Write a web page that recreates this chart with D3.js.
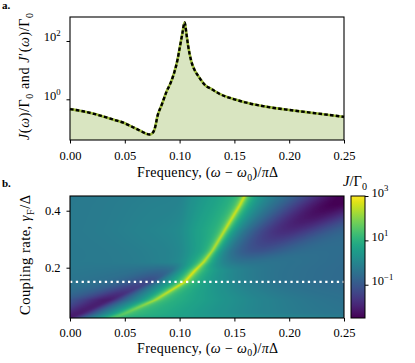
<!DOCTYPE html>
<html><head><meta charset="utf-8">
<script src="https://cdn.jsdelivr.net/npm/d3@7"></script>
<style>
body{margin:0;background:#fff}
svg{display:block}
</style></head>
<body><svg id="chart" width="415" height="363"></svg>
<script>
// ---------------- data ----------------
// panel a: spectrum J(w)/Gamma0 at gamma_F/Delta = 0.15
const spectrumFreq = [0.000,0.010,0.020,0.0286,0.040,0.050,0.058,0.065,0.070,0.0727,0.075,0.077,0.080,0.084,0.088,0.092,0.095,0.098,0.1005,0.1025,0.1046,0.1062,0.1077,0.1107,0.1140,0.117,0.1244,0.1277,0.137,0.150,0.164,0.180,0.200,0.222,0.250];
const spectrumJ    = [0.46,0.40,0.33,0.27,0.20,0.15,0.108,0.080,0.065,0.062,0.068,0.09,0.28,0.70,1.8,3.8,8,22,70,180,436,180,72,20,9.5,6.3,2.8,2.4,1.5,1.0,0.72,0.55,0.43,0.34,0.25];
const freqTicks = [0, 0.05, 0.10, 0.15, 0.20, 0.25];
const freqTickLabels = ["0.00","0.05","0.10","0.15","0.20","0.25"];
const logTicksA = [1, 100];
const logTickExpA = ["0","2"];
const gammaTicks = [0.2, 0.4];
const gammaTickLabels = ["0.2","0.4"];
const cbarTicks = [0.1, 10, 1000];
const cbarTickExp = ["\u22121","1","3"];
const cutGamma = 0.15;

// panel b: map of log10(J/Gamma0) over (frequency, gamma_F)
const bgFreq  = [0, 0.05, 0.10, 0.15, 0.20, 0.25];
const bgGamma = [0.02, 0.10, 0.15, 0.20, 0.30, 0.45];
const bgLog = [
  [-0.30,-0.30,-0.35,-0.40,-0.42,-0.42],
  [-0.30,-0.30,-0.40,-0.45,-0.50,-0.55],
  [-0.30,-0.35,-0.45,-0.55,-0.62,-0.69],
  [-0.30,-0.35,-0.45,-0.60,-0.65,-0.70],
  [-0.30,-0.30,-0.35,-0.50,-0.60,-0.65],
  [-0.30,-0.30,-0.30,-0.45,-0.55,-0.60]];
// bright resonance ridge
const ridgeGamma   = [0.02, 0.04, 0.087, 0.15, 0.19, 0.22, 0.26, 0.33, 0.42, 0.46];
const ridgeFreq    = [0.036,0.050,0.078,0.1046,0.114,0.122,0.130,0.141,0.155,0.1605];
const ridgePeakLog = [1.5, 1.8, 2.45, 2.75, 2.8, 2.8, 2.75, 2.7, 2.6, 2.55];
const ridgeWidth   = [0.006,0.004,0.002,0.0012,0.0012,0.0012,0.0012,0.0012,0.0012,0.0012];
const glowRightAmp = [7.7, 20, 16, 7, 3, 1, 0.5, 0.3, 0.2, 0.2];
const glowRightLen = [0.06,0.034,0.028,0.016,0.012,0.01,0.01,0.01,0.01,0.01];
const glowLeftAmp  = [0, 0, 0, 0, 1, 3, 6, 10, 9, 9];
const glowLeftLen  = [0.01,0.01,0.01,0.01,0.015,0.018,0.02,0.025,0.028,0.028];
// lower-left dark valley
const dip1Gamma = [0.02, 0.04, 0.087, 0.15, 0.19, 0.22];
const dip1Freq  = [-0.004, 0.009, 0.035, 0.0727, 0.09, 0.10];
const dip1Depth = [2.2, 2.1, 2.1, 1.3, 0.9, 0.3];
const dip1WidthLeft  = [0.025, 0.028, 0.03, 0.025, 0.025, 0.025];
const dip1WidthRight = [0.014, 0.015, 0.015, 0.008, 0.01, 0.01];
// upper-right dark valley
const dip2Gamma = [0.19, 0.22, 0.256, 0.326, 0.42, 0.47];
const dip2Freq  = [0.13, 0.145, 0.161, 0.192, 0.24, 0.262];
const dip2Depth = [0.0, 0.5, 1.0, 1.5, 2.0, 2.1];
const dip2Width = [0.03, 0.03, 0.035, 0.04, 0.045, 0.045];
const colorLogMin = -2.5, colorLogMax = 3;

// ---------------- layout ----------------
const FONT = "'Liberation Serif','Times New Roman','DejaVu Serif',serif";
const svg = d3.select("#chart").attr("font-family", FONT);
const FS = 12.5, LFS = 14;
const xA = d3.scaleLinear().domain([0, 0.25]).range([70, 344]);
const yA = d3.scaleLog().domain([Math.pow(10,-1.396), Math.pow(10,2.823)]).range([140, 17]);
const xB = d3.scaleLinear().domain([0, 0.25]).range([70, 344]);
const yB = d3.scaleLinear().domain([0.0235, 0.4516]).range([318, 196]);
const cS = d3.scaleLog().domain([Math.pow(10,colorLogMin), Math.pow(10,colorLogMax)]).range([318, 196]);
const viridis = d3.scaleSequential(d3.interpolateViridis).domain([colorLogMin, colorLogMax]).clamp(true);

function rich(sel, parts){
  let shift = 0;
  const base = parseFloat(sel.attr("font-size"));
  parts.forEach(([t,k])=>{
    const ts = sel.append("tspan").text(t);
    let target = 0;
    if (k==="sub") target = 0.28;
    if (k==="sup") target = -0.42;
    ts.attr("dy", ((target - shift) * base).toFixed(2));
    shift = target;
    if (k==="sub"||k==="sup") ts.attr("font-size", (base*0.7).toFixed(2));
    if (k==="i") ts.attr("font-style","italic");
  });
}
function fitLength(sel, target){
  const w = sel.node().getComputedTextLength();
  if (w < target) sel.attr("textLength", target).attr("lengthAdjust","spacing");
}
const freqLabel = [["Frequency, (","n"],["ω","i"],[" \u2212 ","n"],["ω","i"],["0","sub"],[")/","n"],["π","i"],["Δ","n"]];

// ---------------- panel a ----------------
const gA = svg.append("g");
const area = d3.area().x((d,i)=>xA(spectrumFreq[i])).y0(140).y1((d)=>yA(d)).curve(d3.curveMonotoneX);
const line = d3.line().x((d,i)=>xA(spectrumFreq[i])).y(d=>yA(d)).curve(d3.curveMonotoneX);
gA.append("path").attr("d", area(spectrumJ)).attr("fill","#d9e5c1");
gA.append("path").attr("d", line(spectrumJ)).attr("fill","none").attr("stroke","#9fbd3c").attr("stroke-width",2.6);
gA.append("path").attr("d", line(spectrumJ)).attr("fill","none").attr("stroke","#000").attr("stroke-width",2.4).attr("stroke-dasharray","3.6,2.2");
gA.append("rect").attr("x",70).attr("y",17).attr("width",274).attr("height",123).attr("fill","none").attr("stroke","#000").attr("stroke-width",1.1);

const axA = gA.append("g").attr("transform","translate(0,140)")
  .call(d3.axisBottom(xA).tickValues(freqTicks).tickFormat((d,i)=>freqTickLabels[i]).tickSize(3.5).tickSizeOuter(0));
axA.select(".domain").remove();
axA.selectAll("text").attr("font-size",FS).attr("dy",null).attr("y",19.5);
const ayA = gA.append("g").attr("transform","translate(70,0)")
  .call(d3.axisLeft(yA).tickValues(logTicksA).tickFormat("").tickSize(3.5).tickSizeOuter(0));
ayA.select(".domain").remove();
ayA.selectAll(".tick").each(function(d,i){
  const t = d3.select(this).append("text").attr("x",-9.5).attr("dy","0.34em").attr("text-anchor","end").attr("font-size",FS).attr("fill","#000");
  rich(t, [["10","n"],[logTickExpA[i],"sup"]]);
});

svg.append("text").attr("x",2).attr("y",9).attr("font-size",11).attr("font-weight","bold").text("a.");
const xlA = svg.append("text").attr("x",207.5).attr("y",177).attr("text-anchor","middle").attr("font-size",LFS);
rich(xlA, freqLabel);
const ylA = svg.append("text").attr("transform","translate(29,76.5) rotate(-90)").attr("text-anchor","middle").attr("font-size",14);
rich(ylA, [["J","i"],["(","n"],["ω","i"],[")/Γ","n"],["0","sub"],[" and ","n"],["J","i"],["′(","n"],["ω","i"],[")/Γ","n"],["0","sub"]]);

// ---------------- panel b ----------------
function interp(gs, arr){ return d3.scaleLinear().domain(gs).range(arr).clamp(true); }
const rX = interp(ridgeGamma, ridgeFreq), rP = interp(ridgeGamma, ridgePeakLog), rW = interp(ridgeGamma, ridgeWidth),
      gRA = interp(ridgeGamma, glowRightAmp), gRL = interp(ridgeGamma, glowRightLen),
      gLA = interp(ridgeGamma, glowLeftAmp), gLL = interp(ridgeGamma, glowLeftLen);
const d1X = interp(dip1Gamma, dip1Freq), d1D = interp(dip1Gamma, dip1Depth),
      d1L = interp(dip1Gamma, dip1WidthLeft), d1R = interp(dip1Gamma, dip1WidthRight);
const d2X = interp(dip2Gamma, dip2Freq), d2D = interp(dip2Gamma, dip2Depth), d2W = interp(dip2Gamma, dip2Width);
function bgAt(x, g){
  let i = Math.min(Math.max(d3.bisectRight(bgFreq, x)-1,0), bgFreq.length-2);
  let j = Math.min(Math.max(d3.bisectRight(bgGamma, g)-1,0), bgGamma.length-2);
  let tx = Math.min(Math.max((x-bgFreq[i])/(bgFreq[i+1]-bgFreq[i]),0),1);
  let ty = Math.min(Math.max((g-bgGamma[j])/(bgGamma[j+1]-bgGamma[j]),0),1);
  const a = bgLog[j][i]*(1-tx)+bgLog[j][i+1]*tx;
  const b = bgLog[j+1][i]*(1-tx)+bgLog[j+1][i+1]*tx;
  return a*(1-ty)+b*ty;
}
function logJ(x, g){
  const xr = rX(g), P = Math.pow(10, rP(g)), w = rW(g);
  const dx = x - xr;
  const glow = dx >= 0 ? gRA(g)*Math.exp(-dx/gRL(g)) : gLA(g)*Math.exp(dx/gLL(g));
  let L = Math.log10(Math.pow(10, bgAt(x,g)) + P/(1+(dx/w)*(dx/w)) + glow);
  const xd1 = d1X(g), s1 = x < xd1 ? d1L(g) : d1R(g);
  L -= d1D(g)/(1+Math.pow((x-xd1)/s1,2));
  const xd2 = d2X(g), s2 = d2W(g);
  L -= d2D(g)*Math.exp(-Math.pow((x-xd2)/s2,2));
  return L;
}
const NX = 274, NY = 122;
const cv = document.createElement("canvas"); cv.width = NX; cv.height = NY;
const ctx = cv.getContext("2d");
const img = ctx.createImageData(NX, NY);
const SS = 3;
for (let j=0;j<NY;j++){
  for (let i=0;i<NX;i++){
    let acc = 0;
    for (let s=0;s<SS;s++) for (let u=0;u<SS;u++){
      const x = xB.invert(70 + i + (s+0.5)/SS);
      const g = yB.invert(196 + j + (u+0.5)/SS);
      acc += logJ(x, g);
    }
    const c = d3.rgb(viridis(acc/(SS*SS)));
    const k = 4*(j*NX+i);
    img.data[k]=c.r; img.data[k+1]=c.g; img.data[k+2]=c.b; img.data[k+3]=255;
  }
}
ctx.putImageData(img,0,0);
const gB = svg.append("g");
gB.append("image").attr("x",70).attr("y",196).attr("width",NX).attr("height",NY)
  .attr("preserveAspectRatio","none").attr("href", cv.toDataURL());
gB.append("line").attr("x1",70).attr("x2",344).attr("y1",yB(cutGamma)).attr("y2",yB(cutGamma))
  .attr("stroke","#fff").attr("stroke-width",2.3).attr("stroke-dasharray","2.3,3.5");
gB.append("rect").attr("x",70).attr("y",196).attr("width",274).attr("height",122).attr("fill","none").attr("stroke","#000").attr("stroke-width",1.1);
const axB = gB.append("g").attr("transform","translate(0,318)")
  .call(d3.axisBottom(xB).tickValues(freqTicks).tickFormat((d,i)=>freqTickLabels[i]).tickSize(3.5).tickSizeOuter(0));
axB.select(".domain").remove();
axB.selectAll("text").attr("font-size",FS).attr("dy",null).attr("y",19);
const ayB = gB.append("g").attr("transform","translate(70,0)")
  .call(d3.axisLeft(yB).tickValues(gammaTicks).tickFormat((d,i)=>gammaTickLabels[i]).tickSize(3.5).tickSizeOuter(0));
ayB.select(".domain").remove();
ayB.selectAll("text").attr("font-size",FS).attr("x",-9.5);

svg.append("text").attr("x",2).attr("y",186.5).attr("font-size",11).attr("font-weight","bold").text("b.");
const xlB = svg.append("text").attr("x",207.5).attr("y",352.5).attr("text-anchor","middle").attr("font-size",LFS);
rich(xlB, freqLabel);
const ylB = svg.append("text").attr("transform","translate(30,255) rotate(-90)").attr("text-anchor","middle").attr("font-size",14.5);
rich(ylB, [["Coupling rate, ","n"],["γ","i"],["F","sub"],["/Δ","n"]]);

// colorbar
const defs = svg.append("defs");
const grad = defs.append("linearGradient").attr("id","cb").attr("x1",0).attr("y1",1).attr("x2",0).attr("y2",0);
d3.range(0,1.0001,0.05).forEach(t=>grad.append("stop").attr("offset",t).attr("stop-color",d3.interpolateViridis(t)));
const gC = svg.append("g");
gC.append("rect").attr("x",351).attr("y",196).attr("width",14).attr("height",122).attr("fill","url(#cb)").attr("stroke","#000").attr("stroke-width",1);
const acB = gC.append("g").attr("transform","translate(365,0)")
  .call(d3.axisRight(cS).tickValues(cbarTicks).tickFormat("").tickSize(3.5).tickSizeOuter(0));
acB.select(".domain").remove();
acB.selectAll(".tick").each(function(d,i){
  const t = d3.select(this).append("text").attr("x",6.5).attr("dy","0.34em").attr("text-anchor","start").attr("font-size",FS).attr("fill","#000");
  rich(t, [["10","n"],[cbarTickExp[i],"sup"]]);
});
const cl = svg.append("text").attr("x",355).attr("y",186).attr("text-anchor","middle").attr("font-size",14.5);
rich(cl, [["J","i"],["/Γ","n"],["0","sub"]]);

svg.selectAll("g").attr("font-family", FONT);
svg.selectAll("text").attr("font-family", FONT);
fitLength(xlA, 141); fitLength(xlB, 141); fitLength(ylA, 127); fitLength(ylB, 120);
</script></body></html>
